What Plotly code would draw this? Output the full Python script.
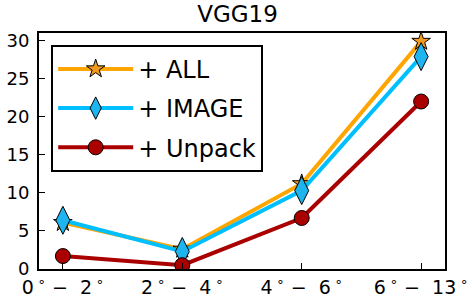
import plotly.graph_objects as go

categories = ["0\u2009<sup>∘</sup>\u00a0−\u00a0\u00a02\u2009<sup>∘</sup>",
              "2\u2009<sup>∘</sup>\u00a0−\u00a0\u00a04\u2009<sup>∘</sup>",
              "4\u2009<sup>∘</sup>\u00a0−\u00a0\u00a06\u2009<sup>∘</sup>",
              "6\u2009<sup>∘</sup>\u00a0−\u00a0\u00a013\u2009<sup>∘</sup>"]
all_vals = [6.1, 2.6, 11.2, 29.9]
image_vals = [6.4, 2.3, 10.3, 27.9]
unpack_vals = [1.7, 0.5, 6.7, 22.0]
y_ticks = [0, 5, 10, 15, 20, 25, 30]

xs = list(range(len(categories)))
fig = go.Figure()
fig.add_trace(go.Scatter(x=xs, y=all_vals, name="+ ALL", mode="lines+markers",
                         legendgroup="a",
                         line=dict(color="#FFA500", width=4),
                         marker=dict(symbol="star", size=14, color="#F29A1E",
                                     line=dict(color="black", width=1))))
fig.add_trace(go.Scatter(x=xs, y=image_vals, name="+ IMAGE", mode="lines+markers",
                         legendgroup="b",
                         line=dict(color="#00BFFF", width=4),
                         marker=dict(symbol="diamond-tall", size=20, color="#1EB4EE",
                                     line=dict(color="black", width=1))))
fig.add_trace(go.Scatter(x=xs, y=unpack_vals, name="+ Unpack", mode="lines+markers",
                         legendgroup="c",
                         line=dict(color="#AA0000", width=4),
                         marker=dict(symbol="circle", size=15, color="#AA0000",
                                     line=dict(color="black", width=1))))

fig.update_layout(
    width=475, height=303,
    margin=dict(l=39, r=30, t=33, b=34, autoexpand=False),
    paper_bgcolor="white", plot_bgcolor="white",
    font=dict(family="DejaVu Sans", color="black", size=18),
    title=dict(text="VGG19", x=0.5, xanchor="center", y=0.955, yanchor="middle",
               font=dict(size=23)),
    showlegend=True,
    legend=dict(x=0.03, y=0.95, xanchor="left", yanchor="top",
                bordercolor="black", borderwidth=2, bgcolor="white",
                font=dict(size=24), itemwidth=75, tracegroupgap=5),
    xaxis=dict(range=[-0.2, 3.2], tickmode="array", tickvals=xs, ticktext=categories,
               automargin=False,
               showgrid=False, zeroline=False, showline=True, linecolor="black",
               linewidth=2, mirror=True, ticks="inside", ticklen=6, tickwidth=1,
               tickcolor="black", tickfont=dict(size=19)),
    yaxis=dict(range=[0, 31], tickmode="array", tickvals=y_ticks,
               automargin=False, ticklabelstandoff=4,
               showgrid=False, zeroline=False, showline=True, linecolor="black",
               linewidth=2, mirror=True, ticks="inside", ticklen=6, tickwidth=1,
               tickcolor="black", tickfont=dict(size=18)),
)
fig.write_html("out.html")
